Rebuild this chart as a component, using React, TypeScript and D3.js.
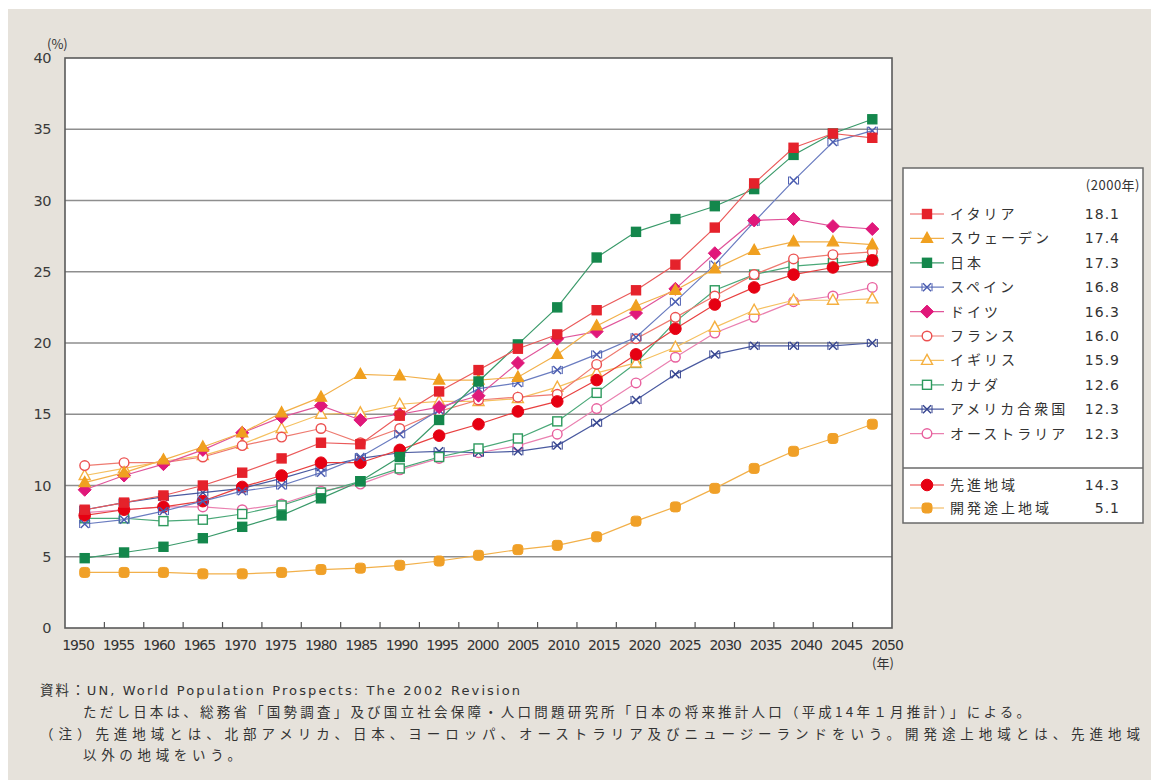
import React from "react";
import * as d3 from "d3";

const years = ["1950","1955","1960","1965","1970","1975","1980","1985","1990","1995","2000","2005","2010","2015","2020","2025","2030","2035","2040","2045","2050"];
const yTicks = [0, 5, 10, 15, 20, 25, 30, 35, 40];

const italy = [8.3, 8.8, 9.3, 10.0, 10.9, 11.9, 13.0, 12.9, 14.9, 16.6, 18.1, 19.6, 20.6, 22.3, 23.7, 25.5, 28.1, 31.2, 33.7, 34.7, 34.4];
const sweden = [10.2, 10.9, 11.8, 12.7, 13.7, 15.1, 16.2, 17.8, 17.7, 17.4, 17.4, 17.6, 19.2, 21.2, 22.6, 23.7, 25.2, 26.5, 27.1, 27.1, 26.9];
const japan = [4.9, 5.3, 5.7, 6.3, 7.1, 7.9, 9.1, 10.3, 12.0, 14.6, 17.3, 19.9, 22.5, 26.0, 27.8, 28.7, 29.6, 30.8, 33.2, 34.7, 35.7];
const spain = [7.3, 7.6, 8.2, 8.9, 9.6, 10.0, 10.9, 12.0, 13.6, 15.3, 16.8, 17.2, 18.1, 19.2, 20.4, 22.9, 25.5, 28.5, 31.4, 34.1, 34.9];
const germany = [9.7, 10.7, 11.5, 12.5, 13.7, 14.8, 15.6, 14.6, 15.0, 15.5, 16.3, 18.6, 20.3, 20.8, 22.1, 23.8, 26.3, 28.6, 28.7, 28.2, 28.0];
const france = [11.4, 11.6, 11.6, 12.0, 12.8, 13.4, 14.0, 13.0, 14.0, 15.2, 16.0, 16.2, 16.4, 18.5, 20.3, 21.8, 23.3, 24.8, 25.9, 26.2, 26.4];
const uk = [10.7, 11.2, 11.7, 12.1, 12.9, 14.0, 15.0, 15.1, 15.7, 15.9, 15.9, 16.1, 16.9, 17.9, 18.6, 19.7, 21.1, 22.3, 23.0, 23.0, 23.1];
const canada = [7.7, 7.7, 7.5, 7.6, 8.0, 8.6, 9.5, 10.3, 11.2, 12.0, 12.6, 13.3, 14.5, 16.5, 18.6, 21.5, 23.7, 24.8, 25.4, 25.6, 25.8];
const usa = [8.3, 8.8, 9.2, 9.5, 9.8, 10.5, 11.3, 11.9, 12.3, 12.4, 12.3, 12.4, 12.8, 14.4, 16.0, 17.8, 19.2, 19.8, 19.8, 19.8, 20.0];
const australia = [8.1, 8.3, 8.5, 8.5, 8.3, 8.7, 9.6, 10.1, 11.1, 11.9, 12.3, 12.8, 13.6, 15.4, 17.2, 19.0, 20.7, 21.8, 22.9, 23.3, 23.9];
const developed = [7.9, 8.3, 8.5, 8.9, 9.9, 10.7, 11.6, 11.6, 12.5, 13.5, 14.3, 15.2, 15.9, 17.4, 19.2, 21.0, 22.7, 23.9, 24.8, 25.3, 25.8];
const developing = [3.9, 3.9, 3.9, 3.8, 3.8, 3.9, 4.1, 4.2, 4.4, 4.7, 5.1, 5.5, 5.8, 6.4, 7.5, 8.5, 9.8, 11.2, 12.4, 13.3, 14.3];

const seriesNames = ["イタリア", "スウェーデン", "日本", "スペイン", "ドイツ", "フランス", "イギリス", "カナダ", "アメリカ合衆国", "オーストラリア", "先進地域", "開発途上地域"];
const legendValues = ["18.1", "17.4", "17.3", "16.8", "16.3", "16.0", "15.9", "12.6", "12.3", "12.3", "14.3", "5.1"];

type Ser = { name: string; values: number[]; color: string; line: string; marker: string; filled: boolean };

const series: Ser[] = [
  { name: seriesNames[0], values: italy, color: "#e5222b", line: "#ea5a5a", marker: "square", filled: true },
  { name: seriesNames[1], values: sweden, color: "#f0a020", line: "#f2b04a", marker: "triangle", filled: true },
  { name: seriesNames[2], values: japan, color: "#14874c", line: "#3a9a6a", marker: "square", filled: true },
  { name: seriesNames[3], values: spain, color: "#4a5cb0", line: "#6a7cc0", marker: "star", filled: true },
  { name: seriesNames[4], values: germany, color: "#e0187a", line: "#e0559a", marker: "diamond", filled: true },
  { name: seriesNames[5], values: france, color: "#ec5050", line: "#ee7a70", marker: "circle", filled: false },
  { name: seriesNames[6], values: uk, color: "#f5b040", line: "#f5c060", marker: "triangle", filled: false },
  { name: seriesNames[7], values: canada, color: "#2e9a5e", line: "#4aa878", marker: "square", filled: false },
  { name: seriesNames[8], values: usa, color: "#34438f", line: "#4a5aa0", marker: "star", filled: true },
  { name: seriesNames[9], values: australia, color: "#e8609e", line: "#ea80b0", marker: "circle", filled: false },
  { name: seriesNames[10], values: developed, color: "#e60012", line: "#e84040", marker: "bigcircle", filled: true },
  { name: seriesNames[11], values: developing, color: "#f0a028", line: "#f2b04a", marker: "rsquare", filled: true },
];

const drawOrder = [11, 9, 8, 7, 6, 5, 10, 3, 4, 1, 2, 0];

const W = 1151, H = 780;
const plot = { left: 65, right: 892, top: 58, bottom: 628 };

function Marker({ type, x, y, color, filled }: { type: string; x: number; y: number; color: string; filled: boolean }) {
  const fill = filled ? color : "#ffffff";
  const sw = 1.4;
  switch (type) {
    case "square":
      return <rect x={x - 4.5} y={y - 4.5} width={9} height={9} fill={fill} stroke={color} strokeWidth={sw} />;
    case "rsquare":
      return <rect x={x - 5} y={y - 5} width={10} height={10} rx={3} fill={fill} stroke={color} strokeWidth={1} />;
    case "triangle":
      return <path d={`M${x},${y - 6}L${x + 5.5},${y + 4}L${x - 5.5},${y + 4}Z`} fill={fill} stroke={color} strokeWidth={sw} />;
    case "diamond":
      return <path d={`M${x},${y - 6.5}L${x + 6.5},${y}L${x},${y + 6.5}L${x - 6.5},${y}Z`} fill={fill} stroke={color} strokeWidth={1} />;
    case "circle":
      return <circle cx={x} cy={y} r={4.8} fill={fill} stroke={color} strokeWidth={sw} />;
    case "bigcircle":
      return <circle cx={x} cy={y} r={5.8} fill={fill} stroke={color} strokeWidth={1} />;
    case "star":
      return (
        <g stroke={color} strokeWidth={1.4} fill="none">
          <path d={`M${x - 4},${y - 4}L${x + 4},${y + 4}M${x - 4},${y + 4}L${x + 4},${y - 4}`} />
          <path d={`M${x - 5},${y - 4}L${x - 5},${y + 4}M${x + 5},${y - 4}L${x + 5},${y + 4}`} strokeWidth={1} />
        </g>
      );
    default:
      return null;
  }
}

export default function App() {
  const x = d3.scaleBand<string>().domain(years).range([plot.left, plot.right]);
  const cx = (yr: string) => (x(yr) as number) + x.bandwidth() / 2;
  const xLabel = d3.scalePoint<string>().domain(years).range([78, 887]);
  const y = d3.scaleLinear().domain([0, 40]).range([plot.bottom, plot.top]);
  const line = d3.line<number>().x((_, i) => cx(years[i])).y((v) => y(v));

  const jp = "'Noto Sans CJK JP', 'Noto Sans', sans-serif";
  const tickFont = "'DejaVu Sans', sans-serif";

  const legendRowY = (i: number) => (i < 10 ? 214 + i * 24.4 : 485 + (i - 10) * 23);

  return (
    <svg width={W} height={H} style={{ position: "absolute", left: 0, top: 0 }} fontFamily={jp}>
      <rect x={0} y={0} width={W} height={H} fill="#ffffff" />
      <rect x={8} y={9} width={W - 8} height={H - 9} fill="#e6e2db" />

      {/* plot area */}
      <rect x={plot.left} y={plot.top} width={plot.right - plot.left} height={plot.bottom - plot.top} fill="#ffffff" />
      {yTicks.filter((t) => t > 0 && t < 40).map((t) => (
        <line key={t} x1={plot.left} x2={plot.right} y1={y(t)} y2={y(t)} stroke="#8e8e8e" strokeWidth={1.3} />
      ))}
      {years.slice(1).map((yr) => (
        <line key={yr} x1={x(yr) as number} x2={x(yr) as number} y1={plot.bottom} y2={plot.bottom - 6} stroke="#555" strokeWidth={1.2} />
      ))}
      <rect x={plot.left} y={plot.top} width={plot.right - plot.left} height={plot.bottom - plot.top} fill="none" stroke="#5a5a5a" strokeWidth={1.6} />

      {/* y labels */}
      {yTicks.map((t) => (
        <text key={t} x={51} y={y(t) + 5} textAnchor="end" fontSize={14.5} fill="#3a3a3a" fontFamily={tickFont} letterSpacing={-0.5}>{t}</text>
      ))}
      <text x={47} y={49} fontSize={13} fill="#333">(%)</text>

      {/* x labels */}
      {years.map((yr) => (
        <text key={yr} x={xLabel(yr)} y={650} textAnchor="middle" fontSize={14} fill="#333" fontFamily={tickFont} letterSpacing={-1}>{yr}</text>
      ))}
      <text x={872} y={668} fontSize={13} fill="#333">(年)</text>

      {/* series */}
      {drawOrder.map((si) => {
        const s = series[si];
        return (
          <g key={s.name}>
            <path d={line(s.values) as string} fill="none" stroke={s.line} strokeWidth={1.2} />
            {s.values.map((v, i) => (
              <Marker key={i} type={s.marker} x={cx(years[i])} y={y(v)} color={s.color} filled={s.filled} />
            ))}
          </g>
        );
      })}

      {/* legend */}
      <rect x={903} y={168} width={240} height={355} fill="#ffffff" stroke="#6a6a6a" strokeWidth={1.5} />
      <line x1={903} x2={1143} y1={468} y2={468} stroke="#6a6a6a" strokeWidth={1.5} />
      <text x={1140} y={190} textAnchor="end" fontSize={13} fill="#333" letterSpacing={0.5}>(2000年)</text>
      {series.map((s, i) => {
        const ly = legendRowY(i);
        return (
          <g key={s.name}>
            <line x1={910} x2={944} y1={ly} y2={ly} stroke={s.line} strokeWidth={1.2} />
            <Marker type={s.marker} x={927} y={ly} color={s.color} filled={s.filled} />
            <text x={950} y={ly + 5} fontSize={14} fill="#333" letterSpacing={3}>{s.name}</text>
            <text x={1120} y={ly + 5} textAnchor="end" fontSize={14} fill="#333" letterSpacing={1} fontFamily={tickFont}>{legendValues[i]}</text>
          </g>
        );
      })}

      {/* footnotes */}
      <text x={40} y={695} fontSize={13.5} fill="#333" textLength={480} lengthAdjust="spacing">
        <tspan>資料：</tspan>
        <tspan fontFamily={tickFont} fontSize={13}>UN,  World Population Prospects: The 2002 Revision</tspan>
      </text>
      <text x={83} y={717} fontSize={13.5} fill="#333" textLength={947} lengthAdjust="spacing">ただし日本は、総務省「国勢調査」及び国立社会保障・人口問題研究所「日本の将来推計人口（平成14年１月推計）」による。</text>
      <text x={40} y={739} fontSize={13.5} fill="#333" textLength={1100} lengthAdjust="spacing">（注）先進地域とは、北部アメリカ、日本、ヨーロッパ、オーストラリア及びニュージーランドをいう。開発途上地域とは、先進地域</text>
      <text x={83} y={760} fontSize={13.5} fill="#333" textLength={158} lengthAdjust="spacing">以外の地域をいう。</text>
    </svg>
  );
}
